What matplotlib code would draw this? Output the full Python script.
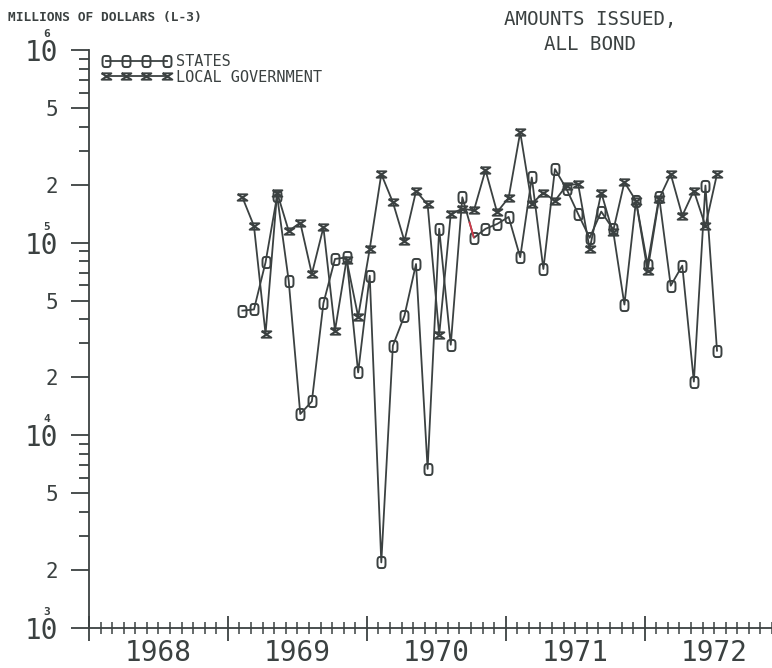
import matplotlib.pyplot as plt
import numpy as np
import pandas as pd
from matplotlib.path import Path
from matplotlib.transforms import blended_transform_factory

# monthly issues, millions of dollars, Feb 1969 - Jul 1972
months = pd.date_range('1969-02-01', periods=42, freq='MS')
states = [44400, 45000, 79000, 175000, 63500, 12900, 15000, 48500, 82300, 83900,
          21200, 67400, 2190, 29200, 41800, 77500, 6700, 118000, 29500, 172000,
          106000, 118000, 125000, 136000, 84000, 218000, 73000, 241000, 190000, 141000,
          106000, 145000, 118000, 47700, 165000, 76900, 173000, 59800, 76000, 19000,
          198000, 27500]
local = [172000, 122000, 33600, 182000, 115000, 127000, 68800, 120000, 35000, 81600,
         41300, 92700, 227000, 162000, 102000, 185000, 158000, 33200, 141000, 150000,
         147000, 238000, 144000, 171000, 374000, 159000, 182000, 165000, 198000, 202000,
         92700, 182000, 113000, 206000, 165000, 71600, 169000, 227000, 138000, 186000,
         122000, 227000]
years = [1968, 1969, 1970, 1971, 1972]

ink = '#3b4141'
font = 'DejaVu Sans Mono'
plt.rcParams['font.family'] = font

x = np.array(months.year + (months.month - 0.75) / 12)

# plotter style markers: a "0" (rounded box) and a barred x (hourglass)
t = np.linspace(0, 2*np.pi, 60)
c, s = np.cos(t), np.sin(t)
oh = Path(np.column_stack([0.72*np.sign(c)*np.abs(c)**0.5,
                           np.sign(s)*np.abs(s)**0.5]))
hourglass = Path([(-1, 0.65), (1, 0.65), (-1, -0.65), (1, -0.65), (-1, 0.65)])

fig = plt.figure(figsize=(7.72, 6.68), dpi=100)
ax = fig.add_axes([89/772, 40/668, 683/772, 578/668])

ax.plot(x, states, color=ink, lw=1.3, marker=oh, ms=8, mfc='none', mec=ink,
        mew=1.4, label='STATES')
ax.plot(x, local, color=ink, lw=1.3, marker=hourglass, ms=7, mfc='none', mec=ink,
        mew=1.4, label='LOCAL GOVERNMENT')

# small red stroke on the states line (pen change in the original plot)
i = 19
ax.plot([x[i] + 0.6*(x[i+1] - x[i]), x[i+1]],
        [states[i] * (states[i+1]/states[i])**0.6, states[i+1]],
        color='#d23a4a', lw=1.3, solid_capstyle='butt')

ax.set_yscale('log')
ax.set_ylim(1e3, 1e6)
ax.set_xlim(1968, 1968 + 683/139.1)

for sp in ['top', 'right']:
    ax.spines[sp].set_visible(False)
for sp in ['left', 'bottom']:
    ax.spines[sp].set_color(ink)
    ax.spines[sp].set_linewidth(1.3)

# y ticks: decades, 2 and 5 labelled
major = []
labels = []
for e in [3, 4, 5]:
    major += [10**e, 2*10**e, 5*10**e]
    labels += ['10', '2', '5']
major.append(10**6)
labels.append('10')
minor = [m*10**e for e in [3, 4, 5] for m in [3, 4, 6, 7, 8, 9]]
ax.set_yticks(major, labels)
ax.set_yticks(minor, minor=True)
ax.yaxis.set_minor_formatter(plt.NullFormatter())
ax.tick_params(axis='y', which='major', length=13, width=1.3, color=ink,
               labelcolor=ink, pad=9)
ax.tick_params(axis='y', which='minor', length=7, width=1.3, color=ink)
for lab in ax.get_yticklabels():
    lab.set_fontsize(20 if lab.get_text() == '10' else 15)
for e in [3, 4, 5, 6]:
    ax.annotate(str(e), xy=(0, 10**e), xycoords=('axes fraction', 'data'),
                xytext=(-42, 16), textcoords='offset pixels', fontsize=8,
                color=ink, ha='center', va='center', fontweight='bold')

# x ticks: years and months crossing the axis
ax.set_xticks(years, [''] * len(years))
ax.set_xticks([y + m/12 for y in years for m in range(1, 12)], minor=True)
ax.tick_params(axis='x', which='major', direction='inout', length=18, width=1.3,
               color=ink)
ax.tick_params(axis='x', which='minor', direction='inout', length=9, width=1.1,
               color=ink)
tr = blended_transform_factory(ax.transData, ax.transAxes)
for y in years:
    ax.text(y + 0.5, -0.043, str(y), transform=tr, ha='center', va='center',
            fontsize=20, color=ink)

fig.text(8/772, 1 - 18/668, 'MILLIONS OF DOLLARS (L-3)', fontsize=9.3,
         fontweight='bold', color=ink, va='center')
fig.text(590/772, 1 - 19/668, 'AMOUNTS ISSUED,', fontsize=13.8, color=ink,
         ha='center', va='center')
fig.text(590/772, 1 - 45/668, 'ALL BOND', fontsize=13.8, color=ink,
         ha='center', va='center')

leg = ax.legend(loc='upper left', bbox_to_anchor=(101/772, 1 - 54/668),
                bbox_transform=fig.transFigure, frameon=False, numpoints=4,
                handlelength=4.6, handletextpad=0.3, labelspacing=0.05,
                borderpad=0, borderaxespad=0, fontsize=11, labelcolor=ink)

fig.savefig('out.png', dpi=100)
